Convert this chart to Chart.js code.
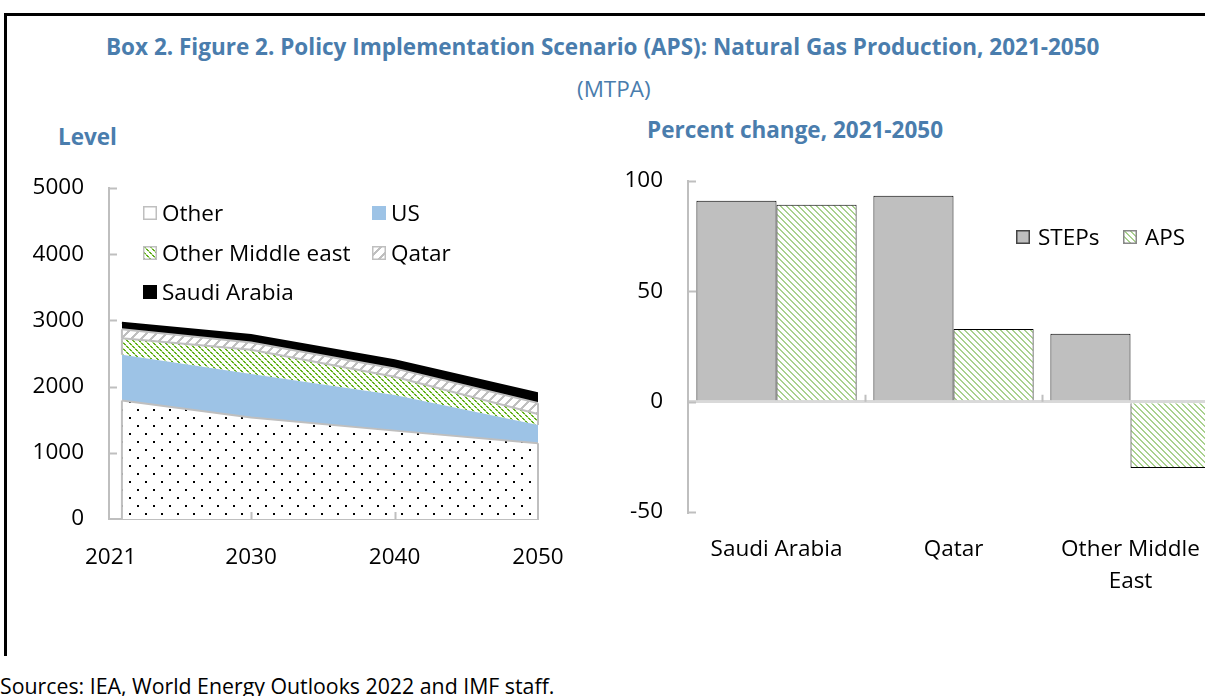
<!DOCTYPE html>
<html>
<head>
<meta charset="utf-8">
<script src="https://cdn.jsdelivr.net/npm/chart.js@4.4.0/dist/chart.umd.min.js"></script>
<style>
  body { margin: 0; width: 1205px; height: 696px; overflow: hidden; background: #fff; position: relative; font-family: "Open Sans", sans-serif; }
  .frame { position: absolute; left: 4px; top: 13px; width: 1400px; height: 640px; border-top: 3px solid #000; border-left: 3px solid #000; }
  .txt { position: absolute; white-space: nowrap; line-height: 28px; }
  .blue { color: #4A7DAD; }
  .bold { font-weight: bold; }
  .box { position: absolute; }
  .legend { position: absolute; font-size: 22.5px; color: #000; line-height: 28px; }
  .legend .item { position: absolute; white-space: nowrap; }
  .legend canvas { position: absolute; top: 7px; left: 0; }
  .legend span { position: absolute; top: 0; }
</style>
</head>
<body>
<div class="frame"></div>
<div class="txt blue bold" style="left:106px; top:33px; font-size:22.5px;">Box 2. Figure 2. Policy Implementation Scenario (APS): Natural Gas Production, 2021-2050</div>
<div class="txt blue" style="left:577px; top:75px; font-size:22.5px;">(MTPA)</div>
<div class="txt blue bold" style="left:58px; top:123px; font-size:22.5px;">Level</div>
<div class="txt blue bold" style="left:647px; top:116px; font-size:22.5px;">Percent change, 2021-2050</div>
<div class="txt" style="left:0px; top:672px; font-size:21.3px; color:#000;">Sources: IEA, World Energy Outlooks 2022 and IMF staff.</div>

<div class="box" style="left:0px; top:160px; width:590px; height:440px;"><canvas id="levelChart" width="590" height="440"></canvas></div>
<div class="box" style="left:590px; top:160px; width:680px; height:440px;"><canvas id="pctChart" width="680" height="440"></canvas></div>
<div class="legend" id="levelLegend"></div>
<div class="legend" id="pctLegend"></div>

<script>
// left panel: level, MTPA
const years = [2021, 2030, 2040, 2050];
const levelTicks = [0, 1000, 2000, 3000, 4000, 5000];
const otherVals = [1790, 1535, 1335, 1145];
const usVals = [690, 655, 540, 275];
const otherMEVals = [250, 365, 275, 165];
const qatarVals = [135, 110, 125, 165];
const saudiVals = [100, 115, 125, 150];

// right panel: percent change 2021-2050
const countries = ['Saudi Arabia', 'Qatar', ['Other Middle', 'East']];
const pctTicks = [-50, 0, 50, 100];
const stepsVals = [91, 93.3, 30.8];
const apsVals = [89.2, 32.9, -30.1];

const GRAY = '#BFBFBF';

function tile(size, draw) {
    const c = document.createElement('canvas');
    c.width = size; c.height = size;
    const g = c.getContext('2d');
    g.fillStyle = '#fff';
    g.fillRect(0, 0, size, size);
    draw(g, size);
    return g.createPattern(c, 'repeat');
}

const dotFill = tile(16, g => {
    g.fillStyle = '#000';
    g.fillRect(1, 1, 2, 2);
    g.fillRect(9, 9, 2, 2);
});

const greenHatch = tile(6, (g, s) => {
    for (let i = 0; i < s; i++) {
        g.fillStyle = i % 3 === 2 ? '#B9DE93' : '#62B01C';
        g.fillRect(i, i, 1, 1);
        g.fillRect((i + 1) % s, i, 1, 1);
    }
});

const lightHatch = tile(6, (g, s) => {
    g.fillStyle = '#A9D18E';
    for (let i = 0; i < s; i++) {
        g.fillRect(i, i, 1, 1);
        g.fillRect((i + 1) % s, i, 1, 1);
    }
});

const qatarFill = tile(10, (g, s) => {
    g.fillStyle = GRAY;
    for (let y = 0; y < s; y++) {
        const x = s - 1 - y;
        for (let k = -1; k < 2; k++) g.fillRect((x + k + s) % s, y, 1, 1);
    }
});

function pts(vals) {
    return vals.map((v, i) => ({ x: years[i], y: v }));
}

// ticks drawn inward from the axis lines, plus the grey end edges of bordered areas
const innerTicks = {
    id: 'innerTicks',
    afterDatasetsDraw(chart, args, opts) {
        const ctx = chart.ctx;
        const xs = chart.scales.x, ys = chart.scales.y;
        ctx.save();
        ctx.lineWidth = 2;
        if (opts.edges) {
            chart.data.datasets.forEach((ds, i) => {
                if (ds.borderColor !== GRAY) return;
                const pts = chart.getDatasetMeta(i).data;
                const below = i > 0 ? chart.getDatasetMeta(i - 1).data : null;
                ctx.strokeStyle = GRAY;
                ctx.beginPath();
                [0, pts.length - 1].forEach(k => {
                    const x = pts[k].x;
                    ctx.moveTo(x, below ? below[k].y : ys.bottom);
                    ctx.lineTo(x, pts[k].y);
                });
                ctx.stroke();
            });
        }
        ctx.strokeStyle = GRAY;
        ctx.beginPath();
        opts.yValues.forEach(v => {
            const py = Math.round(ys.getPixelForValue(v)) + 0.5;
            ctx.moveTo(xs.left, py);
            ctx.lineTo(xs.left + 8, py);
        });
        const base = opts.xBase === undefined ? ys.bottom : ys.getPixelForValue(opts.xBase);
        opts.xPixels(xs).forEach(px => {
            ctx.moveTo(px, base);
            ctx.lineTo(px, base - 7);
        });
        ctx.stroke();
        ctx.restore();
    }
};

const tickFont = { family: '"Open Sans", sans-serif', size: 22.5 };

function noPadY(s, w) { s.width = w; s.paddingTop = 0; s.paddingBottom = 0; }
function noPadX(s, h) { s.height = h; s.paddingLeft = 0; s.paddingRight = 0; }

new Chart(document.getElementById('levelChart'), {
    type: 'line',
    data: {
        datasets: [
            { label: 'Other', data: pts(otherVals), backgroundColor: dotFill, borderColor: GRAY, borderWidth: 2, fill: 'origin' },
            { label: 'US', data: pts(usVals), backgroundColor: '#9DC3E6', borderColor: '#9DC3E6', borderWidth: 0, fill: '-1' },
            { label: 'Other Middle east', data: pts(otherMEVals), backgroundColor: greenHatch, borderColor: GRAY, borderWidth: 2, fill: '-1' },
            { label: 'Qatar', data: pts(qatarVals), backgroundColor: qatarFill, borderColor: GRAY, borderWidth: 2, fill: '-1' },
            { label: 'Saudi Arabia', data: pts(saudiVals), backgroundColor: '#000', borderColor: '#000', borderWidth: 2, fill: '-1' }
        ]
    },
    options: {
        responsive: false,
        animation: false,
        elements: { point: { radius: 0 }, line: { tension: 0 } },
        layout: { autoPadding: false, padding: { top: 28, right: 52, left: 0, bottom: 0 } },
        plugins: {
            legend: { display: false },
            tooltip: { enabled: false },
            innerTicks: {
                edges: true,
                yValues: levelTicks.filter(v => v > 0),
                xPixels: xs => years.slice(1, 3).map(v => Math.round(xs.getPixelForValue(v)) + 0.5)
            }
        },
        scales: {
            x: {
                type: 'linear',
                min: 2020.1,
                max: 2050,
                afterBuildTicks: s => { s.ticks = years.map(v => ({ value: v })); },
                afterFit: s => noPadX(s, 81),
                border: { color: GRAY, width: 2 },
                grid: { drawOnChartArea: false, drawTicks: false },
                ticks: {
                    font: tickFont, color: '#000', padding: 25,
                    callback: v => v === 2021 ? '2021\u2002\u2002' : String(v)
                }
            },
            y: {
                stacked: true,
                min: 0,
                max: 5000,
                afterBuildTicks: s => { s.ticks = levelTicks.map(v => ({ value: v })); },
                afterFit: s => noPadY(s, 109),
                border: { color: GRAY, width: 2 },
                grid: { drawOnChartArea: false, drawTicks: false },
                ticks: { font: tickFont, color: '#000', padding: 25, callback: v => String(v) }
            }
        }
    },
    plugins: [innerTicks]
});

new Chart(document.getElementById('pctChart'), {
    type: 'bar',
    data: {
        labels: countries,
        datasets: [
            { label: 'STEPs', data: stepsVals, backgroundColor: GRAY, borderColor: '#000', borderWidth: 1 },
            { label: 'APS', data: apsVals, backgroundColor: lightHatch, borderColor: '#000', borderWidth: 1 }
        ]
    },
    options: {
        responsive: false,
        animation: false,
        layout: { autoPadding: false, padding: { top: 21, right: 51, left: 0, bottom: 0 } },
        datasets: { bar: { categoryPercentage: 0.905, barPercentage: 1 } },
        plugins: {
            legend: { display: false },
            tooltip: { enabled: false },
            innerTicks: {
                yValues: pctTicks,
                xBase: 0,
                xPixels: xs => [1, 2].map(i => Math.round((xs.getPixelForValue(i - 1) + xs.getPixelForValue(i)) / 2) + 0.5)
            }
        },
        scales: {
            x: {
                afterFit: s => noPadX(s, 88),
                border: { display: false },
                grid: { display: false },
                ticks: { font: { ...tickFont, lineHeight: 1.42 }, color: '#000', padding: 14, maxRotation: 0, autoSkip: false }
            },
            y: {
                min: -50,
                max: 100,
                afterBuildTicks: s => { s.ticks = pctTicks.map(v => ({ value: v })); },
                afterFit: s => noPadY(s, 98),
                border: { color: GRAY, width: 2 },
                grid: {
                    drawTicks: false,
                    color: c => c.tick && c.tick.value === 0 ? '#D9D9D9' : 'rgba(0,0,0,0)',
                    lineWidth: 3
                },
                ticks: { font: tickFont, color: '#000', padding: 25 }
            }
        }
    },
    plugins: [innerTicks]
});

// html legends with the same fills as the datasets
function swatch(fill, border) {
    const c = document.createElement('canvas');
    c.width = 14; c.height = 14;
    const g = c.getContext('2d');
    g.fillStyle = fill;
    g.fillRect(0, 0, 14, 14);
    if (border) {
        g.strokeStyle = border;
        g.lineWidth = 1.5;
        g.strokeRect(0.75, 0.75, 12.5, 12.5);
    }
    return c;
}

function addItem(parent, left, top, label, fill, border, gap) {
    const d = document.createElement('div');
    d.className = 'item';
    d.style.left = left + 'px';
    d.style.top = top + 'px';
    d.appendChild(swatch(fill, border));
    const s = document.createElement('span');
    s.style.left = gap + 'px';
    s.textContent = label;
    d.appendChild(s);
    parent.appendChild(d);
}

const lv = document.getElementById('levelLegend');
addItem(lv, 143, 199, 'Other', '#fff', GRAY, 19);
addItem(lv, 372, 199, 'US', '#9DC3E6', null, 19);
addItem(lv, 143, 239, 'Other Middle east', greenHatch, GRAY, 19);
addItem(lv, 372, 239, 'Qatar', qatarFill, GRAY, 19);
addItem(lv, 143, 278, 'Saudi Arabia', '#000', null, 19);

const pl = document.getElementById('pctLegend');
addItem(pl, 1016, 223, 'STEPs', GRAY, '#444', 22);
addItem(pl, 1123, 223, 'APS', lightHatch, '#888', 22);
</script>
</body>
</html>
